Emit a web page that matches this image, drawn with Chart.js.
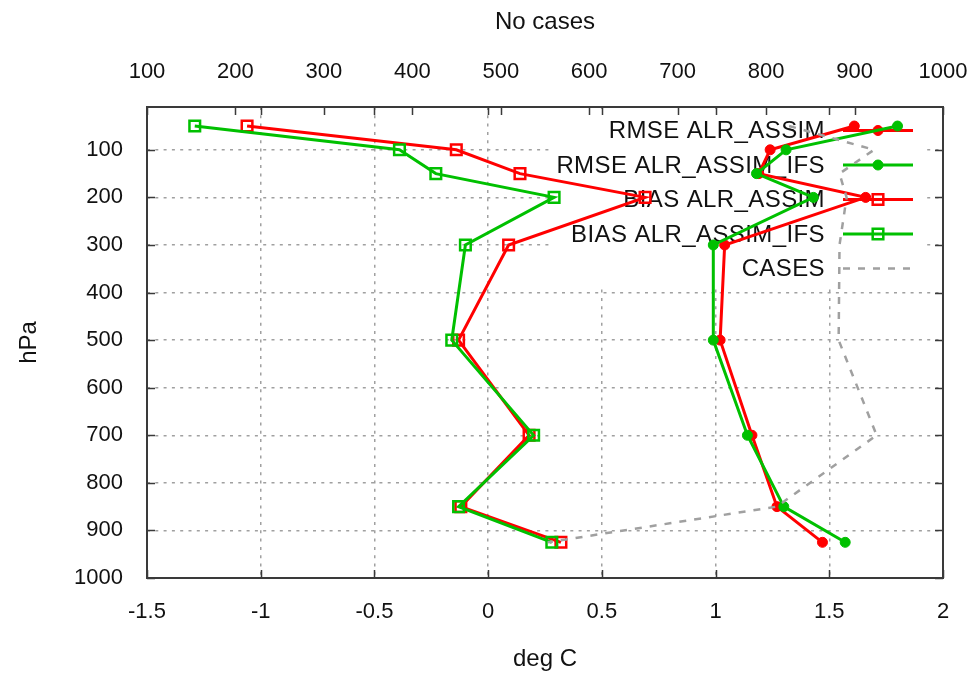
<!DOCTYPE html>
<html>
<head>
<meta charset="utf-8">
<title>ALR_ASSIM profiles</title>
<script src="https://cdn.jsdelivr.net/npm/chart.js@4.4.1/dist/chart.umd.min.js"></script>
<style>
  html, body { margin: 0; padding: 0; background: #fff; }
  #wrap { width: 974px; height: 679px; }
</style>
</head>
<body>
<div id="wrap"><canvas id="chart" width="974" height="679"></canvas></div>
<script>
// pressure levels (hPa) shared by every profile
const levels = [50, 100, 150, 200, 300, 500, 700, 850, 925];

// deg C
const rmseAssim    = [1.61, 1.24, 1.19, 1.66, 1.04, 1.02, 1.16, 1.27, 1.47];
const rmseAssimIfs = [1.80, 1.31, 1.18, 1.43, 0.99, 0.99, 1.14, 1.30, 1.57];
const biasAssim    = [-1.06, -0.14, 0.14, 0.69, 0.09, -0.13, 0.18, -0.12, 0.32];
const biasAssimIfs = [-1.29, -0.39, -0.23, 0.29, -0.10, -0.16, 0.20, -0.13, 0.28];

// number of cases per level (top axis)
const cases = [826, 922, 883, 891, 883, 882, 925, 812, 553];

const degTicks  = [-1.5, -1, -0.5, 0, 0.5, 1, 1.5, 2];
const caseTicks = [100, 200, 300, 400, 500, 600, 700, 800, 900, 1000];
const hpaTicks  = [100, 200, 300, 400, 500, 600, 700, 800, 900, 1000];

const RED = '#ff0000';
const GREEN = '#00c000';
const GREY = '#a0a0a0';
const INK = '#3a3a3a';

Chart.defaults.font.family = '"Liberation Sans", Arial, Helvetica, sans-serif';
Chart.defaults.font.size = 22;
Chart.defaults.color = '#111';

function profile(vals) {
  return vals.map((v, i) => ({ x: v, y: levels[i] }));
}

function fixedTicks(list) {
  return function (scale) {
    scale.ticks = list.map(v => ({ value: v }));
  };
}

// horizontal axes: fixed height, no extra side padding for edge labels
function fitHorizontal(h) {
  return function (s) {
    s.height = h;
    s.paddingLeft = 0;
    s.paddingRight = 0;
  };
}

// gnuplot-style key: text right-aligned, sample line to the right
const gnuplotKey = {
  id: 'gnuplotKey',
  beforeDatasetsDraw(chart) {
    const ctx = chart.ctx;
    ctx.save();
    // opaque key area hides the grid behind it
    ctx.fillStyle = '#fff';
    ctx.fillRect(551, 109, 375, 178);

    const rows = chart.data.datasets.filter(ds => ds.keyRow !== undefined);
    ctx.font = '24px "Liberation Sans", Arial, sans-serif';
    if ('letterSpacing' in ctx) ctx.letterSpacing = '0.4px';
    ctx.textAlign = 'right';
    ctx.textBaseline = 'middle';
    rows.forEach(ds => {
      const y = 130.5 + ds.keyRow * 34.5;
      ctx.fillStyle = '#111';
      ctx.fillText(ds.label, 825, y + 1);
      ctx.strokeStyle = ds.borderColor;
      ctx.lineWidth = ds.borderWidth;
      ctx.setLineDash(ds.borderDash || []);
      ctx.beginPath();
      ctx.moveTo(843, y);
      ctx.lineTo(913, y);
      ctx.stroke();
      ctx.setLineDash([]);
      if (ds.pointRadius > 0) {
        ctx.fillStyle = ds.pointBackgroundColor;
        ctx.strokeStyle = ds.pointBorderColor;
        ctx.lineWidth = ds.pointBorderWidth;
        Chart.helpers.drawPoint(ctx, {
          pointStyle: ds.pointStyle, radius: ds.pointRadius, rotation: 0, borderWidth: ds.pointBorderWidth
        }, 878, y);
      }
    });
    ctx.restore();
  },
  afterDraw(chart) {
    const ctx = chart.ctx;
    const a = chart.chartArea;
    const sx = chart.scales.x, sx2 = chart.scales.x2, sy = chart.scales.y;
    const len = 8;
    ctx.save();
    ctx.strokeStyle = INK;
    ctx.lineWidth = 1.5;
    ctx.beginPath();
    // bottom ticks, mirrored on top
    sx.ticks.forEach(t => {
      const p = Math.round(sx.getPixelForValue(t.value)) + 0.5;
      ctx.moveTo(p, a.bottom); ctx.lineTo(p, a.bottom - len);
      ctx.moveTo(p, a.top); ctx.lineTo(p, a.top + len);
    });
    // case ticks on top only
    sx2.ticks.forEach(t => {
      const p = Math.round(sx2.getPixelForValue(t.value)) + 0.5;
      ctx.moveTo(p, a.top); ctx.lineTo(p, a.top + len);
    });
    // pressure ticks, left and right
    sy.ticks.forEach(t => {
      const p = Math.round(sy.getPixelForValue(t.value)) + 0.5;
      ctx.moveTo(a.left, p); ctx.lineTo(a.left + len, p);
      ctx.moveTo(a.right, p); ctx.lineTo(a.right - len, p);
    });
    ctx.stroke();
    ctx.lineWidth = 2;
    ctx.strokeRect(a.left, a.top, a.right - a.left, a.bottom - a.top);
    ctx.restore();
  }
};

const gridOpts = { color: GREY, lineWidth: 1.5, drawTicks: false };
const dotted = { display: false, dash: [3, 5.3] };

new Chart(document.getElementById('chart'), {
  type: 'scatter',
  data: {
    datasets: [
      {
        label: 'RMSE ALR_ASSIM', keyRow: 0, order: 5,
        data: profile(rmseAssim), showLine: true,
        borderColor: RED, borderWidth: 3,
        pointStyle: 'circle', pointRadius: 5, pointBackgroundColor: RED, pointBorderColor: RED, pointBorderWidth: 1
      },
      {
        label: 'RMSE ALR_ASSIM_IFS', keyRow: 1, order: 4,
        data: profile(rmseAssimIfs), showLine: true,
        borderColor: GREEN, borderWidth: 3,
        pointStyle: 'circle', pointRadius: 5, pointBackgroundColor: GREEN, pointBorderColor: GREEN, pointBorderWidth: 1
      },
      {
        label: 'BIAS ALR_ASSIM', keyRow: 2, order: 3,
        data: profile(biasAssim), showLine: true,
        borderColor: RED, borderWidth: 3,
        pointStyle: 'rect', pointRadius: 7.5, pointBackgroundColor: 'rgba(0,0,0,0)', pointBorderColor: RED, pointBorderWidth: 2.5
      },
      {
        label: 'BIAS ALR_ASSIM_IFS', keyRow: 3, order: 2,
        data: profile(biasAssimIfs), showLine: true,
        borderColor: GREEN, borderWidth: 3,
        pointStyle: 'rect', pointRadius: 7.5, pointBackgroundColor: 'rgba(0,0,0,0)', pointBorderColor: GREEN, pointBorderWidth: 2.5
      },
      {
        label: 'CASES', keyRow: 4, order: 1,
        data: profile(cases), showLine: true, xAxisID: 'x2',
        borderColor: GREY, borderWidth: 2.5, borderDash: [7, 8],
        pointRadius: 0
      }
    ]
  },
  options: {
    responsive: false,
    animation: false,
    devicePixelRatio: 1,
    events: [],
    layout: { padding: { left: 0, right: 31, top: 0, bottom: 0 } },
    plugins: { legend: { display: false }, tooltip: { enabled: false } },
    elements: { line: { tension: 0 } },
    scales: {
      x: {
        type: 'linear', position: 'bottom', min: -1.5, max: 2,
        afterBuildTicks: fixedTicks(degTicks),
        afterFit: fitHorizontal(101),
        grid: gridOpts, border: dotted,
        ticks: { padding: 21, callback: v => String(v) },
        title: { display: true, text: 'deg C', font: { size: 24 }, padding: { top: 0, bottom: 5 } }
      },
      x2: {
        type: 'linear', position: 'top', min: 100, max: 1000,
        afterBuildTicks: fixedTicks(caseTicks),
        afterFit: fitHorizontal(107),
        grid: { display: false, drawTicks: false }, border: { display: false },
        ticks: { padding: 22, callback: v => String(v) },
        title: { display: true, text: 'No cases', font: { size: 24 }, padding: { top: 8, bottom: 0 } }
      },
      y: {
        type: 'linear', position: 'left', reverse: true, min: 10, max: 1000,
        afterBuildTicks: fixedTicks(hpaTicks),
        afterFit(s) { s.width = 147; },
        grid: gridOpts, border: dotted,
        ticks: { padding: 24, callback: v => String(v) },
        title: { display: true, text: 'hPa', font: { size: 24 }, padding: { top: 15, bottom: 0 } }
      }
    }
  },
  plugins: [gnuplotKey]
});
</script>
</body>
</html>
